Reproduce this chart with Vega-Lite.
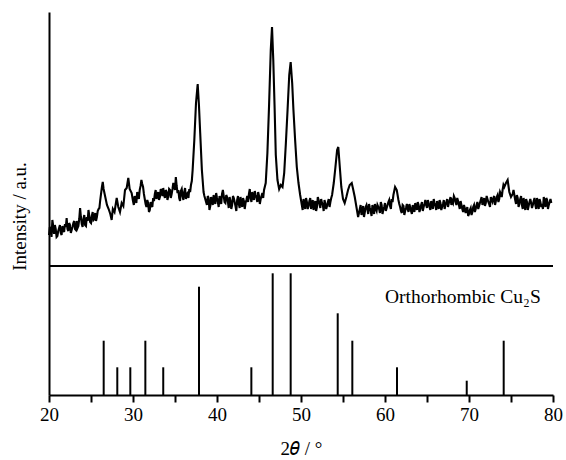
{
  "$schema": "https://vega.github.io/schema/vega-lite/v6.json",
  "width": 504,
  "height": 383,
  "autosize": {"type": "none"},
  "padding": {"left": 49, "top": 12, "right": 13, "bottom": 65},
  "background": "white",
  "config": {
    "view": {"stroke": null},
    "font": "Liberation Serif"
  },
  "datasets": {
    "xrd": [
      {"t": 20.0, "h": 160}, {"t": 20.2, "h": 166}, {"t": 20.4, "h": 175}, {"t": 20.6, "h": 161}, {"t": 20.8, "h": 166},
      {"t": 21.0, "h": 159}, {"t": 21.2, "h": 167}, {"t": 21.4, "h": 162}, {"t": 21.6, "h": 169}, {"t": 21.8, "h": 163},
      {"t": 22.0, "h": 168}, {"t": 22.1, "h": 177}, {"t": 22.3, "h": 164}, {"t": 22.5, "h": 170}, {"t": 22.7, "h": 165},
      {"t": 22.9, "h": 172}, {"t": 23.1, "h": 166}, {"t": 23.3, "h": 174}, {"t": 23.5, "h": 169}, {"t": 23.7, "h": 187},
      {"t": 23.9, "h": 171}, {"t": 24.1, "h": 176}, {"t": 24.3, "h": 170}, {"t": 24.5, "h": 178}, {"t": 24.7, "h": 185},
      {"t": 24.9, "h": 173}, {"t": 25.1, "h": 179}, {"t": 25.3, "h": 175}, {"t": 25.5, "h": 182}, {"t": 25.7, "h": 178},
      {"t": 25.9, "h": 186}, {"t": 26.1, "h": 195}, {"t": 26.3, "h": 208}, {"t": 26.4, "h": 213}, {"t": 26.5, "h": 206},
      {"t": 26.7, "h": 198}, {"t": 26.9, "h": 190}, {"t": 27.1, "h": 186}, {"t": 27.3, "h": 181}, {"t": 27.46, "h": 175},
      {"t": 27.6, "h": 186}, {"t": 27.8, "h": 183}, {"t": 28.06, "h": 197}, {"t": 28.25, "h": 188}, {"t": 28.45, "h": 183},
      {"t": 28.65, "h": 192}, {"t": 28.85, "h": 189}, {"t": 29.05, "h": 205}, {"t": 29.25, "h": 207}, {"t": 29.44, "h": 217},
      {"t": 29.6, "h": 206}, {"t": 29.84, "h": 202}, {"t": 30.0, "h": 194}, {"t": 30.2, "h": 199}, {"t": 30.4, "h": 192},
      {"t": 30.6, "h": 200}, {"t": 30.8, "h": 205}, {"t": 31.0, "h": 215}, {"t": 31.2, "h": 208}, {"t": 31.4, "h": 196},
      {"t": 31.6, "h": 188}, {"t": 31.8, "h": 192}, {"t": 32.0, "h": 185}, {"t": 32.2, "h": 190}, {"t": 32.4, "h": 197},
      {"t": 32.6, "h": 201}, {"t": 32.8, "h": 196}, {"t": 33.0, "h": 203}, {"t": 33.2, "h": 198}, {"t": 33.4, "h": 204},
      {"t": 33.6, "h": 207}, {"t": 33.8, "h": 197}, {"t": 34.0, "h": 203}, {"t": 34.2, "h": 199}, {"t": 34.4, "h": 205},
      {"t": 34.6, "h": 201}, {"t": 34.8, "h": 212}, {"t": 35.0, "h": 205}, {"t": 35.1, "h": 218}, {"t": 35.3, "h": 202},
      {"t": 35.5, "h": 197}, {"t": 35.7, "h": 204}, {"t": 35.9, "h": 199}, {"t": 36.1, "h": 203}, {"t": 36.3, "h": 196},
      {"t": 36.5, "h": 202}, {"t": 36.7, "h": 206}, {"t": 36.9, "h": 210}, {"t": 37.1, "h": 225}, {"t": 37.3, "h": 255},
      {"t": 37.5, "h": 292}, {"t": 37.7, "h": 311}, {"t": 37.85, "h": 290}, {"t": 38.0, "h": 262}, {"t": 38.2, "h": 225},
      {"t": 38.4, "h": 203}, {"t": 38.6, "h": 196}, {"t": 38.8, "h": 190}, {"t": 39.0, "h": 197}, {"t": 39.2, "h": 189},
      {"t": 39.4, "h": 195}, {"t": 39.6, "h": 200}, {"t": 39.8, "h": 191}, {"t": 40.0, "h": 197}, {"t": 40.2, "h": 188},
      {"t": 40.4, "h": 196}, {"t": 40.6, "h": 201}, {"t": 40.8, "h": 199}, {"t": 41.0, "h": 192}, {"t": 41.2, "h": 198},
      {"t": 41.4, "h": 187}, {"t": 41.6, "h": 194}, {"t": 41.8, "h": 190}, {"t": 42.0, "h": 197}, {"t": 42.2, "h": 189},
      {"t": 42.4, "h": 195}, {"t": 42.6, "h": 191}, {"t": 42.8, "h": 198}, {"t": 43.0, "h": 188}, {"t": 43.2, "h": 194},
      {"t": 43.4, "h": 192}, {"t": 43.6, "h": 199}, {"t": 43.8, "h": 201}, {"t": 44.0, "h": 197}, {"t": 44.2, "h": 203},
      {"t": 44.4, "h": 195}, {"t": 44.6, "h": 200}, {"t": 44.8, "h": 193}, {"t": 45.0, "h": 199}, {"t": 45.2, "h": 196},
      {"t": 45.4, "h": 202}, {"t": 45.6, "h": 205}, {"t": 45.8, "h": 212}, {"t": 46.0, "h": 242}, {"t": 46.2, "h": 290},
      {"t": 46.4, "h": 345}, {"t": 46.55, "h": 368}, {"t": 46.7, "h": 335}, {"t": 46.85, "h": 290}, {"t": 47.0, "h": 240},
      {"t": 47.2, "h": 215}, {"t": 47.4, "h": 206}, {"t": 47.6, "h": 210}, {"t": 47.8, "h": 208}, {"t": 48.0, "h": 222},
      {"t": 48.2, "h": 252}, {"t": 48.4, "h": 285}, {"t": 48.6, "h": 320}, {"t": 48.77, "h": 333}, {"t": 48.95, "h": 312},
      {"t": 49.1, "h": 285}, {"t": 49.3, "h": 255}, {"t": 49.5, "h": 228}, {"t": 49.7, "h": 212}, {"t": 49.9, "h": 200},
      {"t": 50.1, "h": 190}, {"t": 50.3, "h": 196}, {"t": 50.5, "h": 186}, {"t": 50.7, "h": 193}, {"t": 50.9, "h": 189},
      {"t": 51.1, "h": 197}, {"t": 51.3, "h": 191}, {"t": 51.5, "h": 185}, {"t": 51.7, "h": 194}, {"t": 51.9, "h": 188},
      {"t": 52.1, "h": 195}, {"t": 52.3, "h": 187}, {"t": 52.5, "h": 192}, {"t": 52.7, "h": 184}, {"t": 52.9, "h": 191},
      {"t": 53.1, "h": 189}, {"t": 53.3, "h": 196}, {"t": 53.5, "h": 193}, {"t": 53.7, "h": 200}, {"t": 53.9, "h": 212},
      {"t": 54.1, "h": 228}, {"t": 54.3, "h": 245}, {"t": 54.44, "h": 248}, {"t": 54.6, "h": 230}, {"t": 54.8, "h": 208},
      {"t": 55.0, "h": 196}, {"t": 55.2, "h": 192}, {"t": 55.4, "h": 198}, {"t": 55.6, "h": 205}, {"t": 55.8, "h": 210},
      {"t": 56.04, "h": 212}, {"t": 56.2, "h": 206}, {"t": 56.4, "h": 198}, {"t": 56.6, "h": 188}, {"t": 56.8, "h": 178},
      {"t": 57.0, "h": 186}, {"t": 57.2, "h": 180}, {"t": 57.4, "h": 189}, {"t": 57.6, "h": 183}, {"t": 57.8, "h": 190},
      {"t": 58.0, "h": 181}, {"t": 58.2, "h": 187}, {"t": 58.4, "h": 179}, {"t": 58.6, "h": 186}, {"t": 58.8, "h": 191},
      {"t": 59.0, "h": 184}, {"t": 59.2, "h": 188}, {"t": 59.4, "h": 182}, {"t": 59.6, "h": 190}, {"t": 59.8, "h": 185},
      {"t": 60.0, "h": 192}, {"t": 60.2, "h": 187}, {"t": 60.4, "h": 193}, {"t": 60.6, "h": 189}, {"t": 60.8, "h": 196},
      {"t": 61.0, "h": 200}, {"t": 61.2, "h": 208}, {"t": 61.4, "h": 205}, {"t": 61.6, "h": 195}, {"t": 61.8, "h": 188},
      {"t": 62.0, "h": 182}, {"t": 62.2, "h": 189}, {"t": 62.4, "h": 184}, {"t": 62.6, "h": 191}, {"t": 62.8, "h": 183},
      {"t": 63.0, "h": 188}, {"t": 63.2, "h": 181}, {"t": 63.4, "h": 187}, {"t": 63.6, "h": 192}, {"t": 63.8, "h": 185},
      {"t": 64.0, "h": 190}, {"t": 64.2, "h": 186}, {"t": 64.4, "h": 193}, {"t": 64.6, "h": 188}, {"t": 64.8, "h": 195},
      {"t": 65.0, "h": 187}, {"t": 65.2, "h": 192}, {"t": 65.4, "h": 185}, {"t": 65.6, "h": 191}, {"t": 65.8, "h": 196},
      {"t": 66.0, "h": 189}, {"t": 66.2, "h": 194}, {"t": 66.4, "h": 186}, {"t": 66.6, "h": 192}, {"t": 66.8, "h": 188},
      {"t": 67.0, "h": 195}, {"t": 67.2, "h": 190}, {"t": 67.4, "h": 196}, {"t": 67.6, "h": 192}, {"t": 67.8, "h": 198},
      {"t": 68.0, "h": 194}, {"t": 68.2, "h": 199}, {"t": 68.4, "h": 193}, {"t": 68.6, "h": 197}, {"t": 68.8, "h": 190},
      {"t": 69.0, "h": 194}, {"t": 69.2, "h": 186}, {"t": 69.4, "h": 190}, {"t": 69.6, "h": 182}, {"t": 69.8, "h": 188},
      {"t": 70.0, "h": 181}, {"t": 70.2, "h": 187}, {"t": 70.4, "h": 183}, {"t": 70.6, "h": 190}, {"t": 70.8, "h": 186},
      {"t": 71.0, "h": 193}, {"t": 71.2, "h": 189}, {"t": 71.4, "h": 195}, {"t": 71.6, "h": 190}, {"t": 71.8, "h": 197},
      {"t": 72.0, "h": 192}, {"t": 72.2, "h": 196}, {"t": 72.4, "h": 191}, {"t": 72.6, "h": 198}, {"t": 72.8, "h": 193},
      {"t": 73.0, "h": 199}, {"t": 73.2, "h": 194}, {"t": 73.4, "h": 200}, {"t": 73.6, "h": 196}, {"t": 73.8, "h": 201},
      {"t": 74.0, "h": 205}, {"t": 74.2, "h": 208}, {"t": 74.4, "h": 212}, {"t": 74.6, "h": 215}, {"t": 74.8, "h": 203},
      {"t": 75.0, "h": 198}, {"t": 75.2, "h": 201}, {"t": 75.3, "h": 205}, {"t": 75.5, "h": 195}, {"t": 75.7, "h": 200},
      {"t": 75.9, "h": 188}, {"t": 76.1, "h": 196}, {"t": 76.3, "h": 190}, {"t": 76.5, "h": 197}, {"t": 76.7, "h": 185},
      {"t": 76.9, "h": 193}, {"t": 77.1, "h": 189}, {"t": 77.3, "h": 196}, {"t": 77.5, "h": 187}, {"t": 77.7, "h": 194},
      {"t": 77.9, "h": 190}, {"t": 78.1, "h": 197}, {"t": 78.3, "h": 186}, {"t": 78.5, "h": 193}, {"t": 78.7, "h": 191},
      {"t": 78.9, "h": 198}, {"t": 79.1, "h": 188}, {"t": 79.3, "h": 195}, {"t": 79.5, "h": 190}, {"t": 79.7, "h": 196},
      {"t": 79.8, "h": 192},
      {"t": 20.1, "h": 168}, {"t": 20.3, "h": 158}, {"t": 20.5, "h": 169}, {"t": 20.7, "h": 170}, {"t": 20.9, "h": 158},
      {"t": 21.1, "h": 164}, {"t": 21.3, "h": 170}, {"t": 21.5, "h": 160}, {"t": 21.7, "h": 165}, {"t": 21.9, "h": 171},
      {"t": 22.2, "h": 166}, {"t": 22.4, "h": 172}, {"t": 22.6, "h": 162}, {"t": 22.8, "h": 168}, {"t": 23.0, "h": 174},
      {"t": 23.2, "h": 165}, {"t": 23.4, "h": 167}, {"t": 23.6, "h": 176}, {"t": 23.8, "h": 178}, {"t": 24.0, "h": 168},
      {"t": 24.2, "h": 180}, {"t": 24.4, "h": 169}, {"t": 24.6, "h": 174}, {"t": 24.8, "h": 179}, {"t": 25.0, "h": 172},
      {"t": 25.2, "h": 183}, {"t": 25.4, "h": 176}, {"t": 25.6, "h": 174}, {"t": 25.8, "h": 184}, {"t": 26.0, "h": 187},
      {"t": 30.1, "h": 190}, {"t": 30.3, "h": 196}, {"t": 30.5, "h": 203}, {"t": 30.7, "h": 196}, {"t": 30.9, "h": 209},
      {"t": 31.1, "h": 211}, {"t": 31.3, "h": 201}, {"t": 31.5, "h": 191}, {"t": 31.7, "h": 195}, {"t": 31.9, "h": 183},
      {"t": 32.1, "h": 193}, {"t": 32.3, "h": 188}, {"t": 32.5, "h": 194}, {"t": 32.7, "h": 205}, {"t": 32.9, "h": 200},
      {"t": 33.1, "h": 195}, {"t": 33.3, "h": 206}, {"t": 33.5, "h": 199}, {"t": 33.7, "h": 200}, {"t": 33.9, "h": 205},
      {"t": 34.1, "h": 195}, {"t": 34.3, "h": 206}, {"t": 34.5, "h": 197}, {"t": 34.7, "h": 206}, {"t": 34.9, "h": 208},
      {"t": 35.2, "h": 209}, {"t": 35.4, "h": 205}, {"t": 35.6, "h": 194}, {"t": 35.8, "h": 206}, {"t": 36.0, "h": 195},
      {"t": 36.2, "h": 207}, {"t": 36.4, "h": 201}, {"t": 36.6, "h": 197}, {"t": 36.8, "h": 203}, {"t": 37.0, "h": 214},
      {"t": 38.5, "h": 199}, {"t": 38.7, "h": 193}, {"t": 38.9, "h": 199}, {"t": 39.1, "h": 185}, {"t": 39.3, "h": 198},
      {"t": 39.5, "h": 190}, {"t": 39.7, "h": 194}, {"t": 39.9, "h": 202}, {"t": 40.1, "h": 193}, {"t": 40.3, "h": 199},
      {"t": 40.5, "h": 191}, {"t": 40.7, "h": 205}, {"t": 40.9, "h": 193}, {"t": 41.1, "h": 200}, {"t": 41.3, "h": 193},
      {"t": 41.5, "h": 198}, {"t": 41.7, "h": 186}, {"t": 41.9, "h": 199}, {"t": 42.1, "h": 193}, {"t": 42.3, "h": 184},
      {"t": 42.5, "h": 199}, {"t": 42.7, "h": 187}, {"t": 42.9, "h": 192}, {"t": 43.1, "h": 197}, {"t": 43.3, "h": 186},
      {"t": 43.5, "h": 195}, {"t": 43.7, "h": 193}, {"t": 43.9, "h": 206}, {"t": 44.1, "h": 193}, {"t": 44.3, "h": 198},
      {"t": 44.5, "h": 204}, {"t": 44.7, "h": 197}, {"t": 44.9, "h": 203}, {"t": 45.1, "h": 191}, {"t": 45.3, "h": 199},
      {"t": 45.5, "h": 197},
      {"t": 50.0, "h": 195}, {"t": 50.2, "h": 185}, {"t": 50.4, "h": 192}, {"t": 50.6, "h": 197}, {"t": 50.8, "h": 186},
      {"t": 51.0, "h": 194}, {"t": 51.2, "h": 186}, {"t": 51.4, "h": 195}, {"t": 51.6, "h": 191}, {"t": 51.8, "h": 184},
      {"t": 52.0, "h": 198}, {"t": 52.2, "h": 191}, {"t": 52.4, "h": 196}, {"t": 52.6, "h": 190}, {"t": 52.8, "h": 195},
      {"t": 53.0, "h": 186}, {"t": 53.2, "h": 193}, {"t": 53.4, "h": 188}, {"t": 53.6, "h": 197},
      {"t": 56.9, "h": 182}, {"t": 57.1, "h": 190}, {"t": 57.3, "h": 184}, {"t": 57.5, "h": 178}, {"t": 57.7, "h": 188},
      {"t": 57.9, "h": 186}, {"t": 58.1, "h": 191}, {"t": 58.3, "h": 184}, {"t": 58.5, "h": 190}, {"t": 58.7, "h": 181},
      {"t": 58.9, "h": 186}, {"t": 59.1, "h": 190}, {"t": 59.3, "h": 186}, {"t": 59.5, "h": 193}, {"t": 59.7, "h": 181},
      {"t": 59.9, "h": 188}, {"t": 60.1, "h": 184}, {"t": 60.3, "h": 190}, {"t": 60.5, "h": 195}, {"t": 60.7, "h": 186},
      {"t": 60.9, "h": 193},
      {"t": 61.7, "h": 191}, {"t": 61.9, "h": 184}, {"t": 62.1, "h": 190}, {"t": 62.3, "h": 180}, {"t": 62.5, "h": 187},
      {"t": 62.7, "h": 186}, {"t": 62.9, "h": 191}, {"t": 63.1, "h": 184}, {"t": 63.3, "h": 190}, {"t": 63.5, "h": 183},
      {"t": 63.7, "h": 188}, {"t": 63.9, "h": 193}, {"t": 64.1, "h": 183}, {"t": 64.3, "h": 190}, {"t": 64.5, "h": 184},
      {"t": 64.7, "h": 191}, {"t": 64.9, "h": 190}, {"t": 65.1, "h": 195}, {"t": 65.3, "h": 188}, {"t": 65.5, "h": 194},
      {"t": 65.7, "h": 186}, {"t": 65.9, "h": 192}, {"t": 66.1, "h": 185}, {"t": 66.3, "h": 190}, {"t": 66.5, "h": 195},
      {"t": 66.7, "h": 185}, {"t": 66.9, "h": 191}, {"t": 67.1, "h": 186}, {"t": 67.3, "h": 193}, {"t": 67.5, "h": 188},
      {"t": 67.7, "h": 195}, {"t": 67.9, "h": 190}, {"t": 68.1, "h": 192}, {"t": 68.3, "h": 197}, {"t": 68.5, "h": 190},
      {"t": 68.7, "h": 194}, {"t": 68.9, "h": 186}, {"t": 69.1, "h": 190}, {"t": 69.3, "h": 183}, {"t": 69.5, "h": 187},
      {"t": 69.7, "h": 185}, {"t": 69.9, "h": 179}, {"t": 70.1, "h": 185}, {"t": 70.3, "h": 180}, {"t": 70.5, "h": 188},
      {"t": 70.7, "h": 183}, {"t": 70.9, "h": 190}, {"t": 71.1, "h": 186}, {"t": 71.3, "h": 192}, {"t": 71.5, "h": 198},
      {"t": 71.7, "h": 193}, {"t": 71.9, "h": 189}, {"t": 72.1, "h": 199}, {"t": 72.3, "h": 193}, {"t": 72.5, "h": 188},
      {"t": 72.7, "h": 195}, {"t": 72.9, "h": 197}, {"t": 73.1, "h": 190}, {"t": 73.3, "h": 198}, {"t": 73.5, "h": 193},
      {"t": 73.7, "h": 203}, {"t": 73.9, "h": 198}, {"t": 74.1, "h": 210},
      {"t": 75.4, "h": 200}, {"t": 75.6, "h": 191}, {"t": 75.8, "h": 197}, {"t": 76.0, "h": 191}, {"t": 76.2, "h": 199},
      {"t": 76.4, "h": 186}, {"t": 76.6, "h": 191}, {"t": 76.8, "h": 196}, {"t": 77.0, "h": 185}, {"t": 77.2, "h": 193},
      {"t": 77.4, "h": 192}, {"t": 77.6, "h": 190}, {"t": 77.8, "h": 197}, {"t": 78.0, "h": 186}, {"t": 78.2, "h": 192},
      {"t": 78.4, "h": 196}, {"t": 78.6, "h": 188}, {"t": 78.8, "h": 186}, {"t": 79.0, "h": 193}, {"t": 79.2, "h": 197},
      {"t": 79.4, "h": 186}, {"t": 79.6, "h": 193}
    ],
    "ref": [
      {"t": 26.51, "h": 54.3}, {"t": 28.13, "h": 27.7}, {"t": 29.68, "h": 27.7}, {"t": 31.47, "h": 54.3},
      {"t": 33.6, "h": 27.7}, {"t": 37.86, "h": 108.3}, {"t": 44.09, "h": 27.7}, {"t": 46.63, "h": 121.7},
      {"t": 48.77, "h": 121.7}, {"t": 54.37, "h": 81.7}, {"t": 56.11, "h": 54.3}, {"t": 61.43, "h": 27.7},
      {"t": 69.73, "h": 14.3}, {"t": 74.13, "h": 54.3}
    ],
    "divider": [{"t": 20, "t2": 80, "h": 129}],
    "label": [{"t": 60.0, "h": 92, "text": "Orthorhombic Cu₂S"}]
  },
  "layer": [
    {
      "data": {"name": "xrd"},
      "mark": {"type": "line", "color": "black", "strokeWidth": 2.1},
      "encoding": {
        "x": {
          "field": "t", "type": "quantitative",
          "scale": {"domain": [20, 80], "nice": false, "zero": false},
          "axis": {
            "orient": "bottom",
            "grid": false,
            "values": [20, 25, 30, 35, 40, 45, 50, 55, 60, 65, 70, 75, 80],
            "labelExpr": "datum.value % 10 === 0 ? datum.label : ''",
            "ticks": true,
            "tickSize": 7,
            "tickWidth": 2,
            "tickColor": "black",
            "domain": true,
            "domainColor": "black",
            "domainWidth": 2,
            "labelFont": "Liberation Serif",
            "labelFontSize": 19,
            "labelColor": "black",
            "labelPadding": 3,
            "labelFlush": false,
            "title": "2𝜃 / °",
            "titleFont": "Liberation Serif",
            "titleFontSize": 19,
            "titleFontWeight": "normal",
            "titleColor": "black",
            "titlePadding": 15,
            "encode": {
              "ticks": {"update": {"y2": {"signal": "datum.value % 10 === 0 ? 7 : 4"}}}
            }
          }
        },
        "y": {
          "field": "h", "type": "quantitative",
          "scale": {"domain": [0, 383], "nice": false, "zero": false},
          "axis": {
            "grid": false,
            "labels": false,
            "ticks": false,
            "domain": true,
            "domainColor": "black",
            "domainWidth": 2,
            "title": "Intensity / a.u.",
            "titleFont": "Liberation Serif",
            "titleFontSize": 19,
            "titleFontWeight": "normal",
            "titleColor": "black",
            "titlePadding": 20,
            "titleY": 204
          }
        }
      }
    },
    {
      "data": {"name": "ref"},
      "mark": {"type": "rule", "color": "black", "strokeWidth": 2},
      "encoding": {
        "x": {"field": "t", "type": "quantitative"},
        "y": {"field": "h", "type": "quantitative"},
        "y2": {"datum": 0}
      }
    },
    {
      "data": {"name": "divider"},
      "mark": {"type": "rule", "color": "black", "strokeWidth": 2},
      "encoding": {
        "x": {"field": "t", "type": "quantitative"},
        "x2": {"field": "t2"},
        "y": {"field": "h", "type": "quantitative"}
      }
    },
    {
      "data": {"name": "label"},
      "mark": {"type": "text", "align": "left", "baseline": "alphabetic", "fontSize": 19.5, "font": "Liberation Serif", "color": "black"},
      "encoding": {
        "x": {"field": "t", "type": "quantitative"},
        "y": {"field": "h", "type": "quantitative"},
        "text": {"field": "text"}
      }
    }
  ]
}
